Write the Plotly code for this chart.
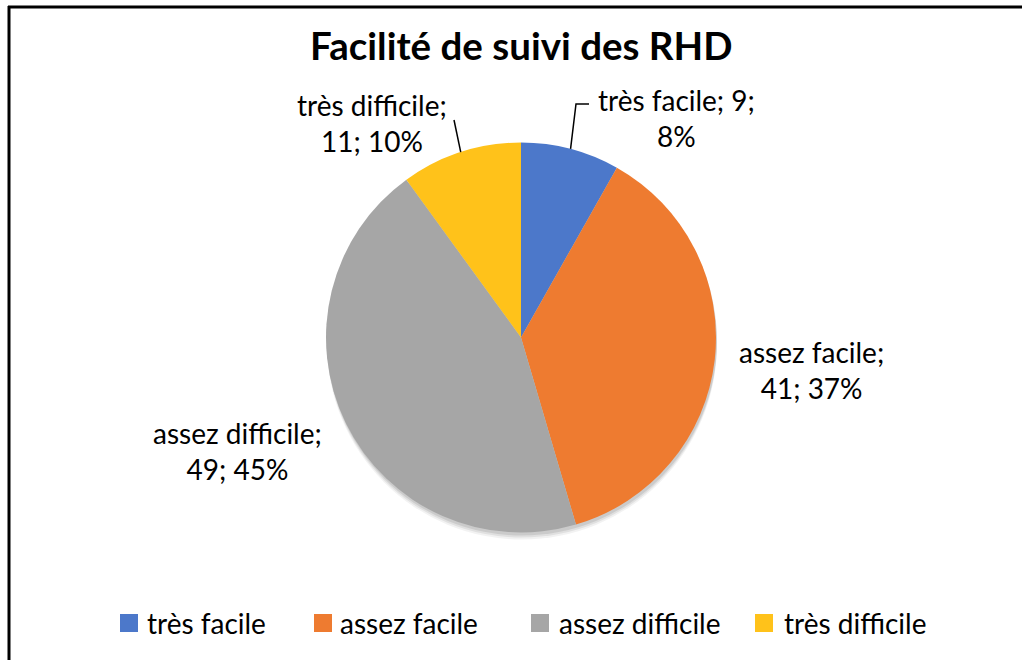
import math
import plotly.graph_objects as go

# ---- data ----
categories = ["très facile", "assez facile", "assez difficile", "très difficile"]
counts = [9, 41, 49, 11]
percent_labels = ["8%", "37%", "45%", "10%"]
colors = ["#4C78CA", "#EE7B30", "#A6A6A6", "#FFC21A"]
title_text = "Facilité de suivi des RHD"

# ---- layout geometry (pixels) ----
W, H = 1022, 660
CX, CY, R = 521, 337.5, 195
FONT = "Lato, Calibri, 'Open Sans', sans-serif"

def px(x):
    return x / W

def py(y):
    return 1 - y / H

fig = go.Figure()

# soft drop shadow (layered, offset pies)
for off, op in [(7, 0.05), (5, 0.07), (3, 0.09)]:
    fig.add_trace(go.Pie(
        values=[1], labels=["shadow"], marker=dict(colors=["#000000"]),
        opacity=op, textinfo="none", hoverinfo="skip", showlegend=False,
        sort=False,
        domain=dict(x=[px(CX - R + 1), px(CX + R + 1)], y=[py(CY + R + off), py(CY - R + off)]),
    ))

fig.add_trace(go.Pie(
    labels=categories, values=counts, sort=False, direction="clockwise", rotation=0,
    marker=dict(colors=colors, line=dict(width=0)),
    textinfo="none", hoverinfo="label+value+percent", showlegend=False,
    domain=dict(x=[px(CX - R), px(CX + R)], y=[py(CY + R), py(CY - R)]),
))

# data labels (text built from data), label positions are layout
label_texts = [f"{c}; {v};<br>{p}" if i == 0 else f"{c};<br>{v}; {p}"
               for i, (c, v, p) in enumerate(zip(categories, counts, percent_labels))]
label_pos = [(676, 118), (811, 370), (237, 451), (372, 123)]
annotations = []
for t, (x, y) in zip(label_texts, label_pos):
    annotations.append(dict(text=t, x=px(x), y=py(y), xref="paper", yref="paper",
                            showarrow=False, font=dict(size=28, color="#000000", family=FONT),
                            align="center", xanchor="center", yanchor="middle"))

annotations.append(dict(text="<b>" + title_text + "</b>", x=px(521), y=py(45), xref="paper", yref="paper",
                        showarrow=False, font=dict(size=38.5, color="#000000", family=FONT),
                        xanchor="center", yanchor="middle"))

# leader lines for the two small slices, anchored at slice mid-angle on the rim
total = sum(counts)
cum = 0
mids = []
for v in counts:
    mids.append((cum + v / 2) / total * 2 * math.pi)
    cum += v

def rim(i, rr=R):
    a = mids[i]
    return CX + rr * math.sin(a), CY - rr * math.cos(a)

shapes = []
x0, y0 = rim(0)
shapes.append(dict(type="path", xref="paper", yref="paper",
                   path=f"M {px(x0)} {py(y0)} L {px(576)} {py(104)} L {px(589)} {py(104)}",
                   line=dict(color="#000000", width=1.5)))
x3, y3 = rim(3)
shapes.append(dict(type="path", xref="paper", yref="paper",
                   path=f"M {px(x3)} {py(y3)} L {px(454)} {py(120)}",
                   line=dict(color="#000000", width=1.5)))

# chart frame (top and left edges visible in the original crop)
shapes.append(dict(type="line", xref="paper", yref="paper", x0=px(9), x1=px(9), y0=py(6), y1=0,
                   line=dict(color="#000000", width=3)))
shapes.append(dict(type="line", xref="paper", yref="paper", x0=px(8), x1=1, y0=py(7), y1=py(7),
                   line=dict(color="#000000", width=3)))

# legend (square swatches + category names from data)
legend_marker_x = [120, 314, 531, 755]
legend_text_x = [145, 338, 557, 782]
LEG_Y = 623
for cat, col, mx, tx in zip(categories, colors, legend_marker_x, legend_text_x):
    shapes.append(dict(type="rect", xref="paper", yref="paper",
                       x0=px(mx), x1=px(mx + 18), y0=py(LEG_Y + 9), y1=py(LEG_Y - 9),
                       fillcolor=col, line=dict(width=0)))
    annotations.append(dict(text=cat, x=px(tx), y=py(LEG_Y), xref="paper", yref="paper",
                            showarrow=False, font=dict(size=28, color="#000000", family=FONT),
                            xanchor="left", yanchor="middle"))

fig.update_layout(
    width=W, height=H,
    margin=dict(l=0, r=0, t=0, b=0),
    paper_bgcolor="#FFFFFF", plot_bgcolor="#FFFFFF",
    annotations=annotations, shapes=shapes,
    showlegend=False,
    font=dict(family=FONT),
)

fig.write_html("out.html", config={"displayModeBar": False},
               post_script="document.body.style.margin='0';document.body.style.overflow='hidden';"
                           "document.documentElement.style.overflow='hidden';")
